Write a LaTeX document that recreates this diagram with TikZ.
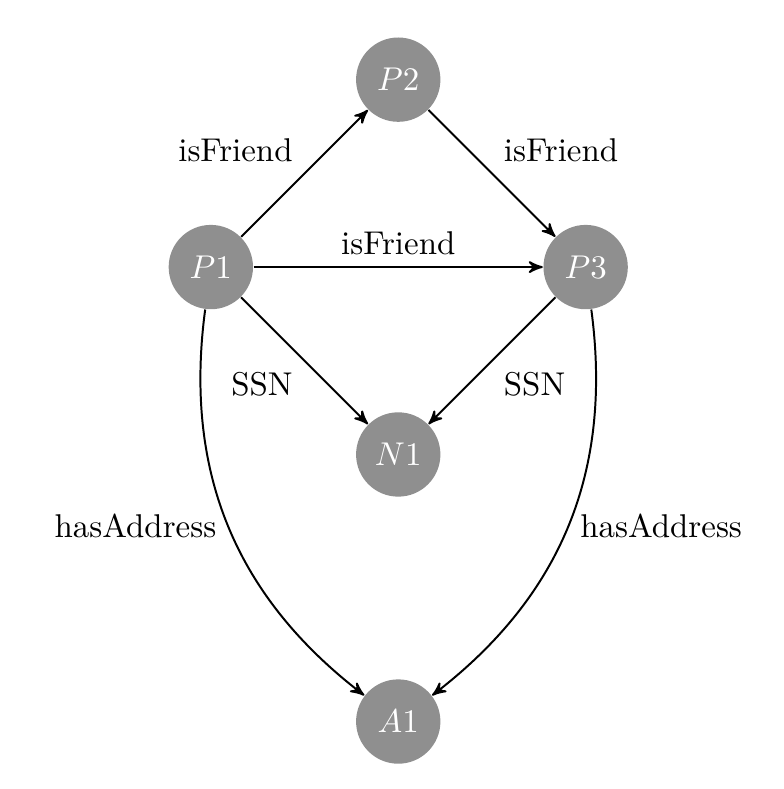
\documentclass[tikz,border=0pt]{standalone}
\usepackage{tikz}
\usepackage{amsmath}
\colorlet{nodegray}{black!44}
\usetikzlibrary{arrows,positioning}
\tikzstyle{ent}=[circle,fill=nodegray,text=white,inner sep=1pt,minimum
size=.9cm]
\tikzstyle{rel}=[->,semithick]

\begin{document}
\begin{tikzpicture}[>=stealth', on grid, node distance=2cm]
  \useasboundingbox (-2.25,-5.57) rectangle (6.11,2.85);
  \node[ent] (p1) {$P1$};
  \node[ent, above right=2cm and 2cm of p1] (p2) {$P2$};
  \node[ent, right=4cm of p1] (p3) {$P3$};
  \node[ent, below right=2cm and 2cm of p1] (n1) {$N1$};
  \node[ent, below=4.85cm of p1, xshift=2cm] (a1) {$A1$};
  \draw[rel] (p1) -- node[above left] {isFriend} (p2);
  \draw[rel] (p2) -- node[above right] {isFriend} (p3);
  \draw[rel] (p1) -- node[above] {isFriend} (p3);
  \draw[rel] (p1) -- node[below left] {SSN} (n1);
  \draw[rel] (p3) -- node[below right] {SSN} (n1);
  \draw[rel] (p1) to[bend right=30] node[left] {hasAddress} (a1);
  \draw[rel] (p3) to[bend left=30] node[right] {hasAddress} (a1);
\end{tikzpicture}
\end{document}
